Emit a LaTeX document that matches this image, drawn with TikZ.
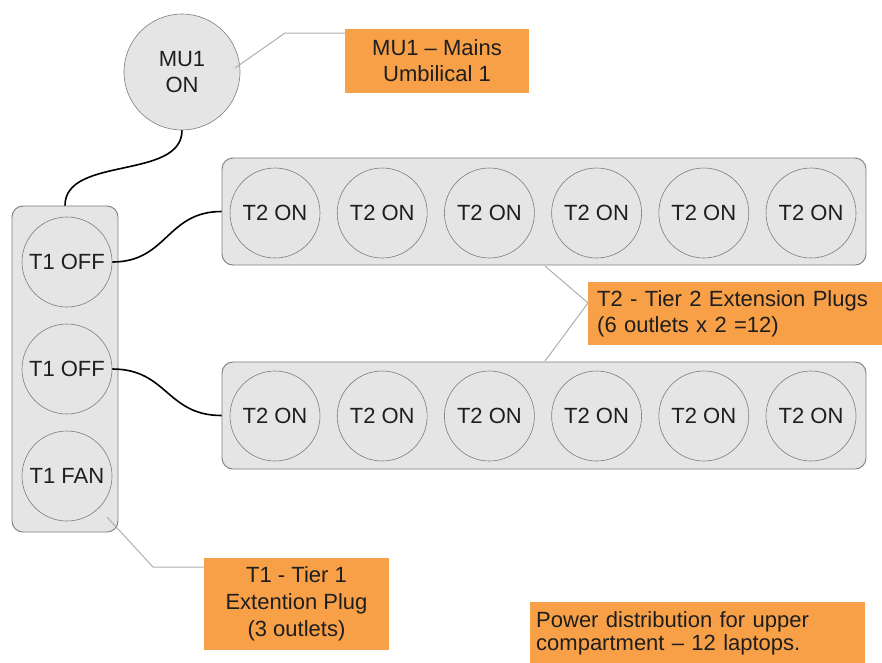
\documentclass[tikz,border=0pt]{standalone}
\usepackage{fontspec}
\setmainfont{Liberation Sans}
\usetikzlibrary{calc}
\definecolor{orng}{RGB}{247,160,72}
\definecolor{plugfill}{RGB}{229,229,229}
\definecolor{plugline}{RGB}{125,125,125}
\definecolor{leadcol}{RGB}{175,175,175}
\definecolor{txt}{RGB}{30,30,30}
\begin{document}
\begin{tikzpicture}[x=1pt,y=-1pt,
  font=\fontsize{22}{26}\selectfont,
  outlet/.style={circle,draw=plugline,fill=plugfill,line width=0.6pt,inner sep=0pt,minimum size=90pt,text=txt,align=center},
  strip/.style={draw=plugline,fill=plugfill,rounded corners=11pt,line width=0.9pt,inner sep=0pt},
  callout/.style={fill=orng,inner sep=0pt,text=txt,align=center},
  cable/.style={line width=1.6pt,black},
  leaderline/.style={draw=leadcol,line width=1pt}]

\useasboundingbox (0,0) rectangle (882,662);

% T1 strip
\node[strip, minimum width=106pt, minimum height=326pt] (t1box) at (65,369) {};
\node[outlet] (t1a) at (67,262) {T1 OFF};
\node[outlet] (t1b) at (67,369) {T1 OFF};
\node[outlet] (t1c) at (67,476) {T1 FAN};

% T2 strips
\node[strip, minimum width=644pt, minimum height=107pt] (t2top) at (544,211.5) {};
\node[strip, minimum width=644pt, minimum height=107pt] (t2bot) at (544,415.5) {};
\foreach \i in {0,...,5}{
  \node[outlet] (ta\i) at ({275+107.2*\i},213) {T2 ON};
  \node[outlet] (tb\i) at ({275+107.2*\i},416) {T2 ON};
}

% MU1
\node[outlet, minimum size=116pt] (mu1) at (182,72) {MU1\\ON};

% callouts
\node[callout, minimum width=184pt, minimum height=64pt] (mu1lbl) at (437,61) {MU1 – Mains\\Umbilical 1};
\node[callout, anchor=north west, align=left, inner xsep=9pt, text width=276pt, minimum height=63pt] (t2lbl) at (588,282) {T2 - Tier 2 Extension Plugs\\(6 outlets x 2 =12)};
\node[callout, minimum width=185pt, minimum height=92pt, font=\fontsize{22}{27}\selectfont] (t1lbl) at (296.5,604) {T1 - Tier 1\\Extention Plug\\(3 outlets)};
\node[callout, anchor=north west, align=left, inner xsep=6pt, text width=323pt, minimum height=62pt, font=\fontsize{22}{23}\selectfont] (pwr) at (530,602) {Power distribution for upper\\compartment – 12 laptops.};

% cables
\draw[cable] (mu1.south) .. controls +(0,50) and +(0,-50) .. (t1box.north);
\draw[cable] (t1a.east) .. controls +(55,0) and +(-55,0) .. (t2top.west);
\draw[cable] (t1b.east) .. controls +(55,0) and +(-55,0) .. (t2bot.west);

% leader lines
\coordinate (mu1tip) at (235,68);
\coordinate (mu1bend) at (285,33);
\draw[leaderline] (mu1tip) -- (mu1bend) -- (mu1bend -| mu1lbl.west);

\coordinate (t2tipa) at (545,266);
\coordinate (t2bend) at (588,303);
\coordinate (t2tipb) at (545,361);
\draw[leaderline] (t2tipa) -- (t2bend) -- (t2tipb);

\coordinate (t1tip) at (107,517);
\coordinate (t1bend) at (153,567);
\draw[leaderline] (t1tip) -- (t1bend) -- (t1bend -| t1lbl.west);
\end{tikzpicture}
\end{document}
